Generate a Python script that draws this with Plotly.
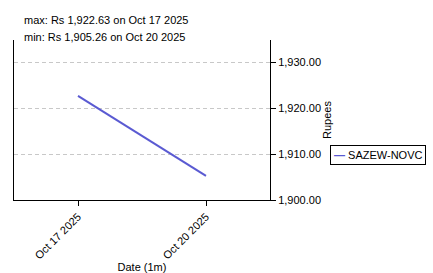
import plotly.graph_objects as go

dates = ["2025-10-17", "2025-10-20"]
prices = [1922.63, 1905.26]
series_name = "SAZEW-NOVC"
x_tick_vals = ["2025-10-17", "2025-10-20"]
x_tick_text = ["Oct 17 2025", "Oct 20 2025"]
y_tick_vals = [1900, 1910, 1920, 1930]
max_text = "max: Rs 1,922.63 on Oct 17 2025"
min_text = "min: Rs 1,905.26 on Oct 20 2025"

FONT = "Liberation Sans, Arial, sans-serif"
LINE_COLOR = "#5a5ad2"

fig = go.Figure()
fig.add_trace(go.Scatter(x=dates, y=prices, mode="lines", name=series_name,
                         line=dict(color=LINE_COLOR, width=2), showlegend=False))

fig.update_layout(
    width=433, height=273,
    margin=dict(l=14, r=163, t=40, b=73),
    paper_bgcolor="white", plot_bgcolor="white",
    font=dict(family=FONT, size=11, color="black"),
    xaxis=dict(
        range=["2025-10-15 12:00", "2025-10-21 12:00"],
        tickvals=x_tick_vals, ticktext=x_tick_text, tickangle=-45,
        ticks="outside", ticklen=5, tickcolor="black",
        showline=True, linecolor="black", linewidth=1,
        showgrid=False, zeroline=False, automargin=False,
        title=dict(text="Date (1m)", font=dict(size=11), standoff=0),
    ),
    yaxis=dict(
        side="right", range=[1900, 1934.8],
        tickvals=y_tick_vals, tickformat=",.2f",
        ticks="outside", ticklen=5, tickcolor="black",
        showline=True, mirror=True, linecolor="black", linewidth=1,
        showgrid=True, gridcolor="#c8c8c8", griddash="4px,3px", gridwidth=1,
        zeroline=False, automargin=False,
        title=dict(text="Rupees", font=dict(size=11), standoff=3),
    ),
)

fig.add_annotation(text=max_text, xref="paper", yref="paper", x=0.03125, y=1.125,
                   xanchor="left", yanchor="middle", showarrow=False, font=dict(size=11))
fig.add_annotation(text=min_text, xref="paper", yref="paper", x=0.03125, y=1.019,
                   xanchor="left", yanchor="middle", showarrow=False, font=dict(size=11))
fig.add_annotation(text=f"<b><span style='color:{LINE_COLOR}'>\u2014</span></b> {series_name}",
                   xref="paper", yref="paper", x=1.234, y=0.284,
                   xanchor="left", yanchor="middle", showarrow=False,
                   bordercolor="black", borderwidth=1, borderpad=3,
                   font=dict(size=11))

fig.write_html("out.html")
